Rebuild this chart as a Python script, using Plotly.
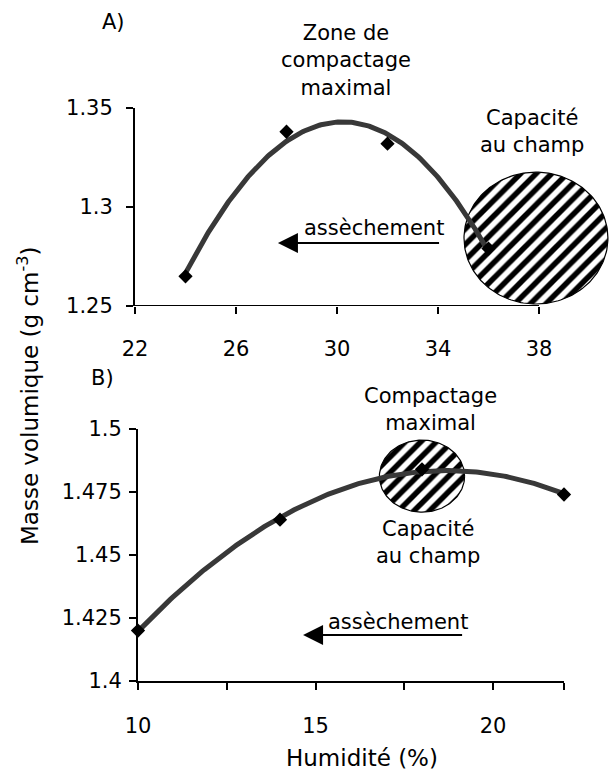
import numpy as np
import plotly.graph_objects as go

W, H = 613, 774

# ---------------- data ----------------
# Panel A
hum_a = [24, 28, 32, 36]
mv_a = [1.265, 1.338, 1.332, 1.279]
# Panel B
hum_b = [10, 14, 18, 22]
mv_b = [1.420, 1.464, 1.484, 1.474]

xticks_a = [22, 26, 30, 34, 38]
xticklabels_a = ["22", "26", "30", "34", "38"]
yticks_a = [1.25, 1.3, 1.35]
yticklabels_a = ["1.25", "1.3", "1.35"]

xticks_b = [10, 12.5, 15, 17.5, 20, 22]
xticklabels_b = ["10", "", "15", "", "20", ""]
yticks_b = [1.4, 1.425, 1.45, 1.475, 1.5]
yticklabels_b = ["1.4", "1.425", "1.45", "1.475", "1.5"]

# field capacity zones (centre, radii) in data units
zone_a = dict(cx=37.88, cy=1.2843, rx=2.85, ry=0.0333)
zone_b = dict(cx=18.0, cy=1.4813, rx=1.2, ry=0.0143)

FONT = "DejaVu Sans"
FS = 21
FS_TITLE = 23
LINE_COL = "#383838"


def px_x(p):
    return p / W


def px_y(p):
    return 1 - p / H


fig = go.Figure()


def ellipse(z):
    t = np.linspace(0, 2 * np.pi, 181)
    return z["cx"] + z["rx"] * np.cos(t), z["cy"] + z["ry"] * np.sin(t)


def add_panel(hum, mv, zone, xa, ya):
    ex, ey = ellipse(zone)
    fig.add_trace(go.Scatter(
        x=ex, y=ey, mode="lines", fill="toself",
        fillcolor="white",
        fillpattern=dict(shape="/", size=11, solidity=0.5,
                         fgcolor="black", bgcolor="white", fgopacity=1),
        line=dict(color="black", width=1.2),
        xaxis=xa, yaxis=ya, hoverinfo="skip"))
    coef = np.polyfit(hum, mv, 2)
    xs = np.linspace(min(hum), max(hum), 200)
    fig.add_trace(go.Scatter(
        x=xs, y=np.polyval(coef, xs), mode="lines",
        line=dict(color=LINE_COL, width=5), cliponaxis=False,
        xaxis=xa, yaxis=ya, hoverinfo="skip"))
    fig.add_trace(go.Scatter(
        x=hum, y=mv, mode="markers",
        marker=dict(symbol="diamond", size=11, color="black"),
        cliponaxis=False, xaxis=xa, yaxis=ya))


add_panel(hum_a, mv_a, zone_a, "x", "y")
add_panel(hum_b, mv_b, zone_b, "x2", "y2")

axis_common = dict(showgrid=False, zeroline=False, ticks="outside",
                   ticklen=7, tickwidth=2, tickcolor="black",
                   linecolor="black", linewidth=2, automargin=False,
                   tickfont=dict(family=FONT, size=FS, color="black"))

# Panel A: x range extended so the hatched zone fits; axis line drawn as a shape
x_end_a = 22 + (612 - 135) / 25.25
fig.update_layout(
    xaxis=dict(domain=[px_x(135), px_x(612)], range=[22, x_end_a],
               tickvals=xticks_a, ticktext=xticklabels_a, showline=False,
               anchor="y", ticklabelstandoff=17, **axis_common),
    yaxis=dict(domain=[px_y(306), px_y(108)], range=[1.25, 1.35],
               tickvals=yticks_a, ticktext=yticklabels_a, showline=True,
               anchor="x", ticklabelstandoff=9, **axis_common),
    xaxis2=dict(domain=[px_x(138), px_x(564)], range=[10, 22],
                tickvals=xticks_b, ticktext=xticklabels_b, showline=True,
                anchor="y2", ticklabelstandoff=18, **axis_common),
    yaxis2=dict(domain=[px_y(681), px_y(429)], range=[1.4, 1.5],
                tickvals=yticks_b, ticktext=yticklabels_b, showline=True,
                anchor="x2", ticklabelstandoff=3, **axis_common),
)

fig.add_shape(type="line", xref="x", yref="y", x0=xticks_a[0], x1=xticks_a[-1],
              y0=1.25, y1=1.25, line=dict(color="black", width=2))

tfont = dict(family=FONT, size=FS, color="black")


def note(text, x, y, xref="paper", yref="paper", size=FS, **kw):
    fig.add_annotation(text=text, x=x, y=y, xref=xref, yref=yref,
                       xanchor="center", yanchor="middle",
                       showarrow=False,
                       font=dict(family=FONT, size=size, color="black"), **kw)


# panel labels
note("A)", px_x(113), px_y(22))
note("B)", px_x(102), px_y(378))

# panel A texts
note("Zone de<br>compactage<br>maximal", px_x(346), px_y(61))
note("Capacité<br>au champ", px_x(532), px_y(131))
note("assèchement", 31.47, 1.2894, xref="x", yref="y")
fig.add_annotation(x=27.66, y=1.2818, ax=34.24, ay=1.2818, xref="x", yref="y",
                   axref="x", ayref="y", text=" ", showarrow=True,
                   arrowhead=2, arrowsize=2, arrowwidth=2, arrowcolor="black")

# panel B texts
note("Compactage<br>maximal", px_x(430), px_y(409))
note("Capacité<br>au champ", px_x(428), px_y(542))
note("assèchement", 17.32, 1.4234, xref="x2", yref="y2")
fig.add_annotation(x=14.65, y=1.41825, ax=19.27, ay=1.41825, xref="x2", yref="y2",
                   axref="x2", ayref="y2", text=" ", showarrow=True,
                   arrowhead=2, arrowsize=2, arrowwidth=2, arrowcolor="black")

# axis titles
note("Masse volumique (g cm<sup>-3</sup>)", px_x(28), px_y(396),
     size=FS_TITLE, textangle=-90)
note("Humidité (%)", px_x(362), px_y(758), size=FS_TITLE)

fig.update_layout(width=W, height=H, margin=dict(l=0, r=0, t=0, b=0, pad=0),
                  paper_bgcolor="white", plot_bgcolor="white",
                  showlegend=False, font=tfont)

fig.write_html("out.html")
